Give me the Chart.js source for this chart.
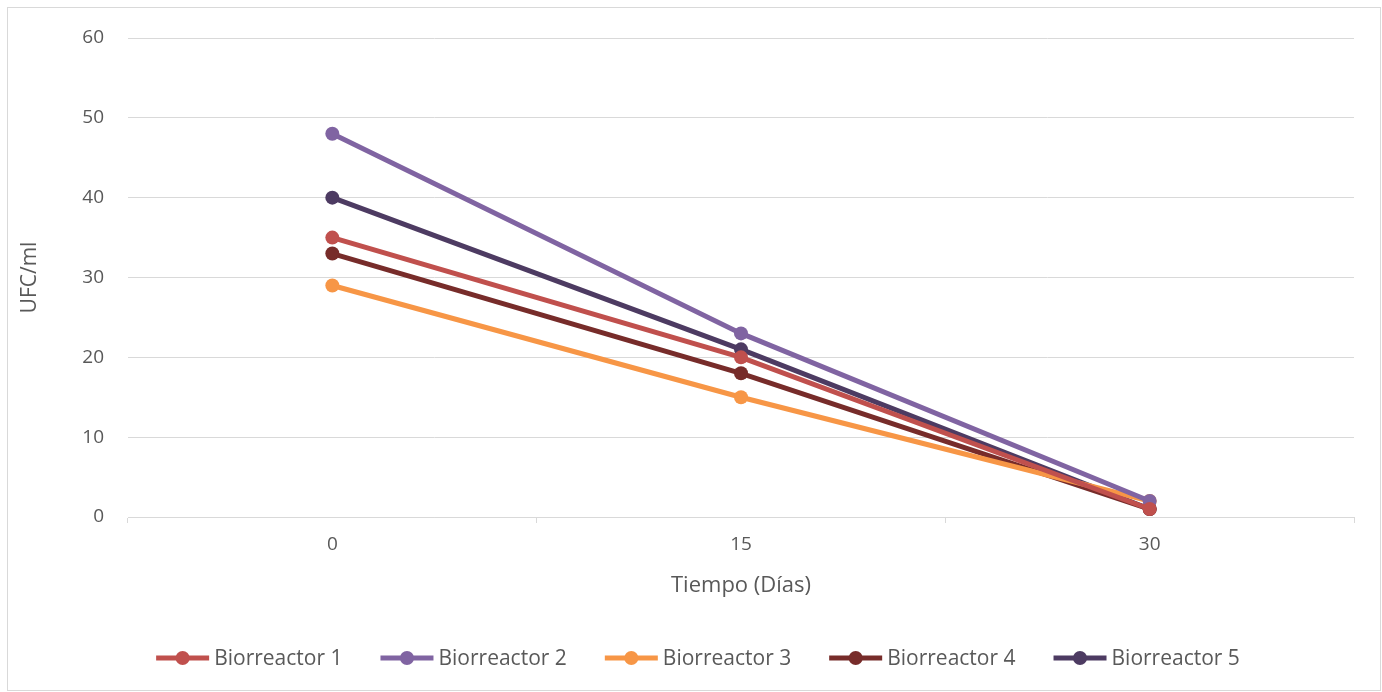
<!DOCTYPE html>
<html>
<head>
<meta charset="utf-8">
<script src="https://cdn.jsdelivr.net/npm/chart.js@4.4.0/dist/chart.umd.min.js"></script>
<style>
  body { margin: 0; background: #fff; }
  #wrap {
    position: absolute; left: 7px; top: 7px;
    width: 1374px; height: 684px;
    border: 1px solid #d9d9d9; box-sizing: border-box;
  }
</style>
</head>
<body>
<div id="wrap"><canvas id="chart"></canvas></div>
<script>
    'use strict';
    // tiempo (dias)
    const dias = ['0', '15', '30'];
    const bio1 = [35, 20, 1];
    const bio2 = [48, 23, 2];
    const bio3 = [29, 15, 2];
    const bio4 = [33, 18, 1];
    const bio5 = [40, 21, 1];
    const nombres = ['Biorreactor 1', 'Biorreactor 2', 'Biorreactor 3', 'Biorreactor 4', 'Biorreactor 5'];
    const colores = ['#c0504d', '#8064a2', '#f79646', '#772c2a', '#4d3b62'];

    const FONT = '"Open Sans", "Noto Sans", sans-serif';
    const GRIS = '#595959';

    function serie(i, data) {
        return {
            label: nombres[i],
            data: data,
            borderColor: colores[i],
            backgroundColor: colores[i],
            borderWidth: 5,
            pointRadius: 7,
            pointHoverRadius: 7,
            pointBorderWidth: 0,
            tension: 0
        };
    }

    // legend drawn by hand: line + dot, like the spreadsheet one
    const leyenda = {
        id: 'leyenda',
        afterDraw(chart) {
            const ctx = chart.ctx;
            const sets = chart.data.datasets;
            ctx.save();
            ctx.font = '21px ' + FONT;
            const lineW = 53, gapTxt = 5, gapItem = 38;
            let total = 0;
            const anchos = sets.map(s => ctx.measureText(s.label).width);
            anchos.forEach(w => total += lineW + gapTxt + w);
            total += gapItem * (sets.length - 1);
            let x = chart.width / 2 - total / 2 + 4;
            const y = 650;
            sets.forEach((s, i) => {
                ctx.strokeStyle = s.borderColor;
                ctx.lineWidth = 5;
                ctx.beginPath();
                ctx.moveTo(x, y);
                ctx.lineTo(x + lineW, y);
                ctx.stroke();
                ctx.fillStyle = s.borderColor;
                ctx.beginPath();
                ctx.arc(x + lineW / 2, y, 7, 0, Math.PI * 2);
                ctx.fill();
                ctx.fillStyle = GRIS;
                ctx.textBaseline = 'middle';
                ctx.textAlign = 'left';
                ctx.fillText(s.label, x + lineW + gapTxt, y + 1);
                x += lineW + gapTxt + anchos[i] + gapItem;
            });
            ctx.restore();
        }
    };

    new Chart(document.getElementById('chart'), {
        type: 'line',
        data: {
            labels: dias,
            datasets: [serie(0, bio1), serie(1, bio2), serie(2, bio3), serie(3, bio4), serie(4, bio5)]
        },
        options: {
            responsive: true,
            maintainAspectRatio: false,
            animation: false,
            layout: { padding: { left: 0, right: 26, top: 30, bottom: 83 } },
            plugins: {
                legend: { display: false },
                tooltip: { enabled: false }
            },
            scales: {
                x: {
                    offset: true,
                    grid: {
                        offset: true,
                        drawOnChartArea: false,
                        drawTicks: true,
                        tickLength: 6,
                        color: '#d9d9d9'
                    },
                    border: { color: '#d9d9d9', width: 1 },
                    ticks: { color: GRIS, font: { family: FONT, size: 19 }, padding: 10, maxRotation: 0 },
                    title: {
                        display: true,
                        text: 'Tiempo (Días)',
                        color: GRIS,
                        font: { family: FONT, size: 22 },
                        padding: { top: 8, bottom: 8 }
                    },
                    afterFit(scale) { scale.height = 90; }
                },
                y: {
                    min: 0,
                    max: 60,
                    ticks: { stepSize: 10, color: GRIS, font: { family: FONT, size: 19 }, padding: 4 },
                    grid: { color: '#d9d9d9', drawTicks: true, tickLength: 20, tickColor: 'rgba(0,0,0,0)' },
                    border: { display: false },
                    title: {
                        display: true,
                        text: 'UFC/ml',
                        color: GRIS,
                        font: { family: FONT, size: 21 },
                        padding: { top: 9, bottom: 9 }
                    },
                    afterFit(scale) { scale.width = 120; }
                }
            }
        },
        plugins: [leyenda]
    });
</script>
</body>
</html>
